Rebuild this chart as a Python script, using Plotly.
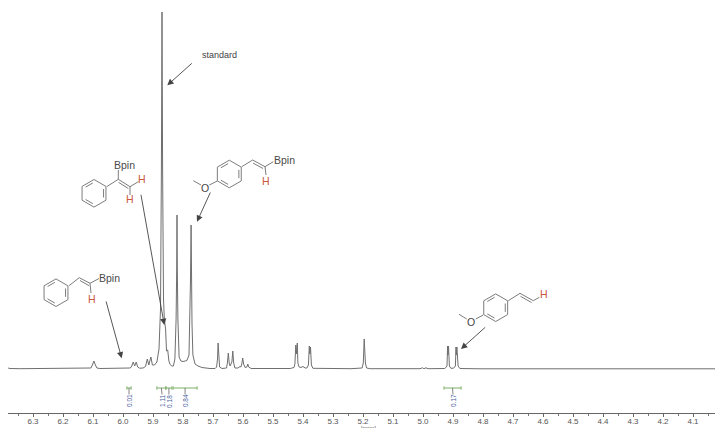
import math
import plotly.graph_objects as go

# Spectrum (chemical shift in ppm, relative intensity)
ppm = [6.383,6.377,6.343,6.117,6.107,6.102,6.097,6.092,6.087,6.077,5.983,5.977,5.972,5.966,5.961,5.956,5.951,5.945,
       5.933,5.925,5.919,5.914,5.907,5.902,5.895,5.887,5.880,5.875,5.872,5.870,5.868,5.865,5.862,5.858,5.855,5.851,5.847,
       5.843,5.837,5.832,5.827,5.823,5.821,5.820,5.819,5.817,5.813,5.807,5.800,5.793,5.787,5.780,5.777,5.775,5.773,5.772,
       5.770,5.767,5.760,5.750,5.737,5.710,5.693,5.688,5.685,5.683,5.681,5.678,5.670,
       5.655,5.652,5.649,5.646,5.643,5.637,5.634,5.631,5.627,5.617,5.610,5.607,5.604,5.601,5.598,5.593,5.587,5.584,5.581,5.573,5.443,
       5.430,5.427,5.424,5.422,5.419,5.417,5.413,5.407,5.400,5.393,5.387,5.382,5.379,5.377,5.375,5.372,5.367,5.277,5.247,5.240,
       5.203,5.199,5.196,5.192,5.188,5.177,5.010,5.002,4.997,4.990,4.983,4.927,4.920,4.918,4.917,4.915,4.912,4.907,4.898,
       4.892,4.890,4.889,4.887,4.883,4.877,4.810,4.410,4.000]
intensity = [1,0.5,0.3,0.3,1,4,8,4,1,0.5,0.5,1,2,7,3,7,2,0.8,
             1,2.5,10,4,12,4,4,7,20,60,200,357,200,70,49,40,18,19,8,
             4.5,3,3,10,50,100,154,100,50,12,8,7.5,8,8.5,14,45,90,144,90,
             45,14,5,3,1.5,0.5,0.5,2,10,26,10,2,0.5,
             1,6,16,6,3,7,18,6,1,1,2.5,2,5,11,5,1.5,2,5,2,0.5,0.5,
             1.5,5,24,15,26,6,2,1.5,2.5,1,1,4,23,15,22,4,0.7,0.3,0.6,0.3,
             1,6,30,6,1,0.3,0.3,1.2,0.3,1.2,0.3,0.5,3,23,14,23,3,0.7,0.8,
             3,22,14,22,3,0.5,0.2,0.2,0.2]

# Axis ticks
tick_vals = [6.3,6.2,6.1,6.0,5.9,5.8,5.7,5.6,5.5,5.4,5.3,5.2,5.1,5.0,4.9,4.8,4.7,4.6,4.5,4.4,4.3,4.2,4.1,4.0]
tick_text = ["6.3","6.2","6.1","6.0","5.9","5.8","5.7","5.6","5.5","5.4","5.3","5.2","5.1","5.0","4.9","4.8","4.7","4.6","4.5","4.4","4.3","4.2","4.1","4.0"]
minor_vals = [6.35,6.25,6.15,6.05,5.95,5.85,5.75,5.65,5.55,5.45,5.35,5.25,5.15,5.05,4.95,4.85,4.75,4.65,4.55,4.45,4.35,4.25,4.15,4.05]

# Integrals
int_from = [5.987,5.887,5.857,5.833,4.930]
int_to = [5.973,5.857,5.837,5.753,4.873]
int_label = ["0.01","1.11","0.18","0.84","0.17"]
int_label_ppm = [5.980,5.870,5.847,5.793,4.900]

# The page has an 8 px body margin, so the figure is 715x420 and page pixels are offset by 8
PAGE = 8
W, H = 723 - PAGE, 428 - PAGE
GRAY = "#6f6f6f"
BOND = "#7c7c7c"
RED = "#c9583c"
GREEN = "#7fb069"
BLUE = "#48609c"
TEXT = "#4a4a4a"
FONT = "Liberation Sans"

def px(x): return (x - PAGE) / W
def py(y): return 1 - (y - PAGE) / H

shapes, ann = [], []

def line(x0, y0, x1, y1, color=BOND, width=1):
    shapes.append(dict(type="line", xref="paper", yref="paper", x0=px(x0), y0=py(y0), x1=px(x1), y1=py(y1),
                       line=dict(color=color, width=width)))

def text(x, y, s, size=10.5, color=TEXT, angle=0):
    ann.append(dict(xref="paper", yref="paper", x=px(x), y=py(y), text=s, showarrow=False, textangle=angle,
                    xanchor="center", yanchor="middle", font=dict(family=FONT, size=size, color=color)))

def arrow(x0, y0, x1, y1):
    ann.append(dict(xref="paper", yref="paper", axref="pixel", ayref="pixel", x=px(x1), y=py(y1),
                    ax=x0 - x1, ay=y0 - y1, text="", showarrow=True, arrowhead=2, arrowsize=1.4,
                    arrowwidth=0.9, arrowcolor="#444444"))

def ring(cx, cy, r=13.8, inner=(1, 3, 5)):
    v = [(cx + r * math.sin(math.radians(60 * i)), cy - r * math.cos(math.radians(60 * i))) for i in range(6)]
    for i in range(6):
        line(*v[i], *v[(i + 1) % 6])
    for i in inner:
        a, b = v[i], v[(i + 1) % 6]
        ia = (a[0] + (cx - a[0]) * 0.2, a[1] + (cy - a[1]) * 0.2)
        ib = (b[0] + (cx - b[0]) * 0.2, b[1] + (cy - b[1]) * 0.2)
        line(ia[0] + (ib[0]-ia[0])*0.12, ia[1] + (ib[1]-ia[1])*0.12,
             ib[0] + (ia[0]-ib[0])*0.12, ib[1] + (ia[1]-ib[1])*0.12)

# Molecule A (lower left)
ring(56, 292.7)
line(69, 285.7, 79.3, 277.7); line(79.3, 277.7, 90, 283.3); line(80, 280.5, 89, 285.7)
line(90, 283.3, 99, 278.5); line(90, 283.3, 91, 293)
text(110, 277.7, "Bpin"); text(91.7, 299, "H", color=RED, size=10.5)

# Molecule B
ring(94, 193.3)
line(106.7, 186.7, 118.3, 179.3); line(118.3, 179.3, 130, 186.7); line(118.5, 182.3, 128.3, 188.5)
line(118.3, 179.3, 118.3, 170); line(130, 186.7, 138.3, 181.7); line(130, 186.7, 130, 195)
text(124.3, 165, "Bpin"); text(142.3, 179, "H", color=RED); text(130, 199.3, "H", color=RED)

# Molecule C
ring(229.3, 174)
line(241.7, 166.7, 252.7, 160); line(252.7, 160, 265, 166.7); line(253, 163, 263, 168.5)
line(265, 166.7, 273.3, 161.7); line(265, 166.7, 266, 175)
line(193.3, 180.7, 201, 185); line(209.3, 185, 217.3, 181)
text(205, 187.7, "O", size=10.5, color="#444444")
text(284.3, 160, "Bpin"); text(266, 180.7, "H", color=RED)

# Molecule D
ring(495.7, 307.7)
line(508.3, 300.7, 520, 293.3); line(520, 293.3, 533.3, 300.7); line(520.5, 296.3, 531.5, 302.5)
line(533.3, 300.7, 539.3, 297.3)
line(459, 314.3, 466.7, 319); line(475.7, 319, 483.3, 315)
text(471.3, 322, "O", size=10.5, color="#444444")
text(544, 294, "H", color=RED)

# Arrows and label
arrow(193.3, 62, 167.3, 85.3)
arrow(211, 191, 197, 221.7)
arrow(140.7, 193.3, 164.3, 325)
arrow(105.7, 300, 121.7, 358.3)
arrow(486.7, 326, 461, 349)
text(219, 54.7, "standard", size=9, color="#444444")

# Integrals
BR_Y = 388
for a, b, lab, lp in zip(int_from, int_to, int_label, int_label_ppm):
    shapes.append(dict(type="line", xref="x", yref="paper", x0=a, x1=b, y0=py(BR_Y), y1=py(BR_Y),
                       line=dict(color=GREEN, width=1)))
    for e in (a, b):
        shapes.append(dict(type="line", xref="x", yref="paper", x0=e, x1=e, y0=py(BR_Y - 1.7), y1=py(BR_Y + 1.7),
                           line=dict(color=GREEN, width=1)))
    shapes.append(dict(type="line", xref="x", yref="paper", x0=(a + b) / 2, x1=lp, y0=py(BR_Y), y1=py(BR_Y + 6.5),
                       line=dict(color="#666666", width=0.8)))
    ann.append(dict(xref="x", yref="paper", x=lp, y=py(401), text=lab, showarrow=False, textangle=-90,
                    xanchor="center", yanchor="middle", font=dict(family=FONT, size=6.5, color=BLUE)))

# Axis unit, cut by the lower edge of the picture; last tick label, cut by the right edge
text(368, 427.5, "[ppm]", size=6, color="#666666")
text(723, 421.7, tick_text[-1], size=8, color="#555555")

fig = go.Figure(go.Scatter(x=ppm, y=intensity, mode="lines", line=dict(color=GRAY, width=1),
                           hoverinfo="skip", showlegend=False))
fig.update_layout(
    width=W, height=H, margin=dict(l=0, r=0, t=0, b=0),
    paper_bgcolor="white", plot_bgcolor="white", showlegend=False,
    shapes=shapes, annotations=ann,
    xaxis=dict(domain=[0, 1], range=[6.41 - 8 / 300, 4.0], tickmode="array", tickvals=tick_vals, ticktext=tick_text,
               showgrid=False, zeroline=False, showline=True, linecolor="#666666", linewidth=1,
               ticks="outside", ticklen=2.5, tickcolor="#666666", tickwidth=1, ticklabelstandoff=-2,
               tickfont=dict(family=FONT, size=8, color="#555555"), tickangle=0, automargin=False,
               minor=dict(tickmode="array", tickvals=minor_vals, ticks="outside", ticklen=1.5, tickcolor="#777777", showgrid=False)),
    yaxis=dict(domain=[15 / H, 1], range=[-44, 361], visible=False, showgrid=False, zeroline=False),
)
fig.write_html("out.html", config=dict(displayModeBar=False))
